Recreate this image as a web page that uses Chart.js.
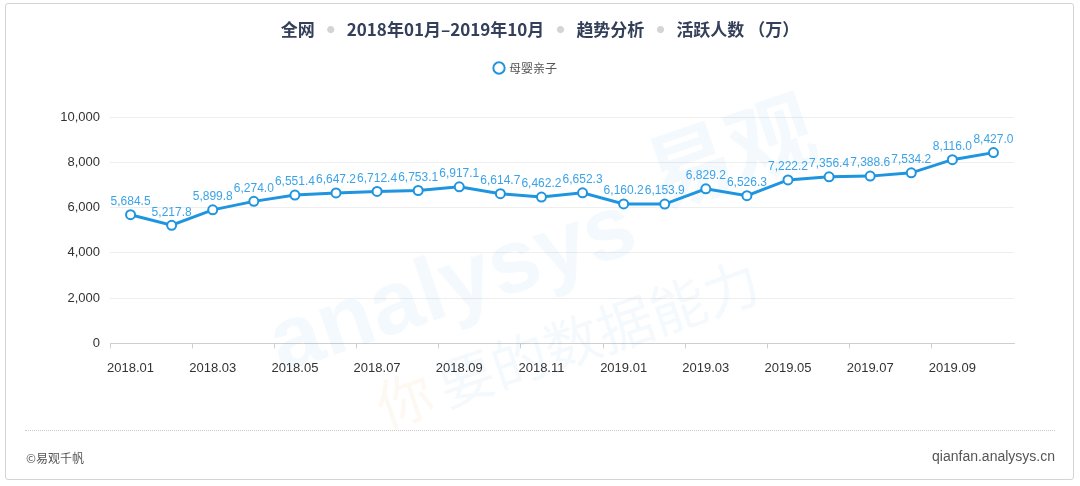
<!DOCTYPE html>
<html>
<head>
<meta charset="utf-8">
<script src="https://cdn.jsdelivr.net/npm/chart.js@4.4.1/dist/chart.umd.min.js"></script>
<style>
  html, body { margin: 0; padding: 0; background: #fff; }
  body { width: 1080px; height: 486px; position: relative; overflow: hidden;
         font-family: "Liberation Sans", "Noto Sans CJK SC", sans-serif; }
  .frame { position: absolute; left: 5px; top: 3px; width: 1069px; height: 477px;
           border: 1px solid #d4d4d4; border-radius: 3px; box-sizing: border-box; }
  .title { position: absolute; top: 16px; left: 0; width: 1080px; text-align: center;
           font-family: "Noto Sans CJK SC", sans-serif; font-size: 17px; font-weight: bold;
           color: #34405a; white-space: pre; }
  .title .dot { color: #d4d4d4; font-weight: normal; font-size: 8px; margin: 0 12px;
                vertical-align: 3px; }
  .wrap { position: absolute; left: 0; top: 0; width: 1080px; height: 486px; }
  .rule { position: absolute; left: 25px; top: 430px; width: 1030px; border-top: 1px dotted #c9c9c9; }
  .foot-l { position: absolute; left: 26px; top: 449px; font-size: 12px; color: #555;
            font-family: "Noto Sans CJK SC", sans-serif; }
  .foot-r { position: absolute; right: 25px; top: 448px; font-size: 14px; color: #555; }
</style>
</head>
<body>
<div class="frame"></div>
<div class="wrap"><canvas id="myChart" width="1080" height="486"></canvas></div>
<div class="title">全网<span class="dot">●</span>2018年01月–2019年10月<span class="dot">●</span>趋势分析<span class="dot">●</span>活跃人数 （万）</div>
<div class="rule"></div>
<div class="foot-l">©易观千帆</div>
<div class="foot-r">qianfan.analysys.cn</div>
<script>
const months = ['2018.01', '2018.02', '2018.03', '2018.04', '2018.05', '2018.06', '2018.07', '2018.08',
    '2018.09', '2018.10', '2018.11', '2018.12', '2019.01', '2019.02', '2019.03', '2019.04',
    '2019.05', '2019.06', '2019.07', '2019.08', '2019.09', '2019.10'];
const activeUsers = [5684.5, 5217.8, 5899.8, 6274.0, 6551.4, 6647.2, 6712.4, 6753.1, 6917.1, 6614.7,
    6462.2, 6652.3, 6160.2, 6153.9, 6829.2, 6526.3, 7222.2, 7356.4, 7388.6, 7534.2, 8116.0, 8427.0];
const seriesName = '母婴亲子';
const yTicks = [0, 2000, 4000, 6000, 8000, 10000];

const blue = '#1f95e0';
const fmt = v => v.toLocaleString('en-US', { minimumFractionDigits: 1, maximumFractionDigits: 1 });

// faint brand watermark behind the line
const watermark = {
    id: 'watermark',
    beforeDatasetsDraw(chart) {
        const ctx = chart.ctx;
        ctx.save();
        ctx.translate(560, 230);
        ctx.rotate(-0.33);
        ctx.fillStyle = 'rgba(40, 140, 210, 0.05)';
        ctx.font = 'bold 90px "Liberation Sans", sans-serif';
        ctx.fillText('analysys', -310, 20);
        ctx.font = 'bold 86px "Noto Sans CJK SC", sans-serif';
        ctx.fillText('易观', 100, -20);
        ctx.font = '56px "Noto Sans CJK SC", sans-serif';
        ctx.fillStyle = 'rgba(240, 150, 80, 0.07)';
        ctx.fillText('你', -230, 110);
        ctx.fillStyle = 'rgba(40, 140, 210, 0.05)';
        ctx.fillText('要的数据能力', -165, 110);
        ctx.restore();
    }
};

// value labels above each point
const pointLabels = {
    id: 'pointLabels',
    afterDatasetsDraw(chart) {
        const ctx = chart.ctx;
        const meta = chart.getDatasetMeta(0);
        ctx.save();
        ctx.font = '12px "Liberation Sans", sans-serif';
        ctx.fillStyle = '#3aa3e8';
        ctx.textAlign = 'center';
        ctx.textBaseline = 'bottom';
        meta.data.forEach((pt, i) => {
            ctx.fillText(fmt(activeUsers[i]), pt.x, pt.y - 7);
        });
        ctx.restore();
    }
};

// extra gap under the legend
const legendGap = {
    id: 'legendGap',
    beforeInit(chart) {
        const fit = chart.legend.fit;
        chart.legend.fit = function () {
            fit.bind(chart.legend)();
            this.height += 33;
        };
    }
};

const chart = new Chart(document.getElementById('myChart'), {
    type: 'line',
    data: {
        labels: months,
        datasets: [{
            label: seriesName,
            data: activeUsers,
            borderColor: blue,
            borderWidth: 3,
            backgroundColor: '#fff',
            pointBackgroundColor: '#fff',
            pointBorderColor: blue,
            pointBorderWidth: 2,
            pointRadius: 4.5,
            tension: 0
        }]
    },
    options: {
        responsive: false,
        animation: false,
        devicePixelRatio: 1,
        layout: { padding: { top: 56, left: 38, right: 66, bottom: 98 } },
        plugins: {
            legend: {
                display: true,
                position: 'top',
                labels: {
                    usePointStyle: true,
                    pointStyle: 'circle',
                    boxWidth: 8,
                    boxHeight: 8,
                    color: '#555',
                    padding: 6,
                    font: { size: 12, family: '"Noto Sans CJK SC", sans-serif' }
                }
            },
            tooltip: { enabled: false }
        },
        scales: {
            x: {
                offset: true,
                grid: {
                    offset: true,
                    drawOnChartArea: false,
                    tickLength: 5,
                    tickColor: c => (c.index % 2 === 0 ? '#cfcfcf' : 'transparent')
                },
                border: { color: '#cfcfcf' },
                ticks: {
                    autoSkip: false,
                    maxRotation: 0,
                    color: '#333',
                    padding: 12,
                    font: { size: 13, family: '"Liberation Sans", sans-serif' },
                    callback: (v, i) => (i % 2 === 0 ? months[i] : '')
                }
            },
            y: {
                min: yTicks[0],
                max: yTicks[yTicks.length - 1],
                afterBuildTicks: axis => { axis.ticks = yTicks.map(v => ({ value: v })); },
                afterFit: axis => { axis.width = 72; },
                grid: { color: '#eeeeee', drawTicks: false },
                border: { display: false },
                ticks: {
                    color: '#333',
                    padding: 10,
                    font: { size: 13, family: '"Liberation Sans", sans-serif' },
                    callback: v => v.toLocaleString('en-US')
                }
            }
        }
    },
    plugins: [watermark, pointLabels, legendGap]
});
</script>
</body>
</html>
